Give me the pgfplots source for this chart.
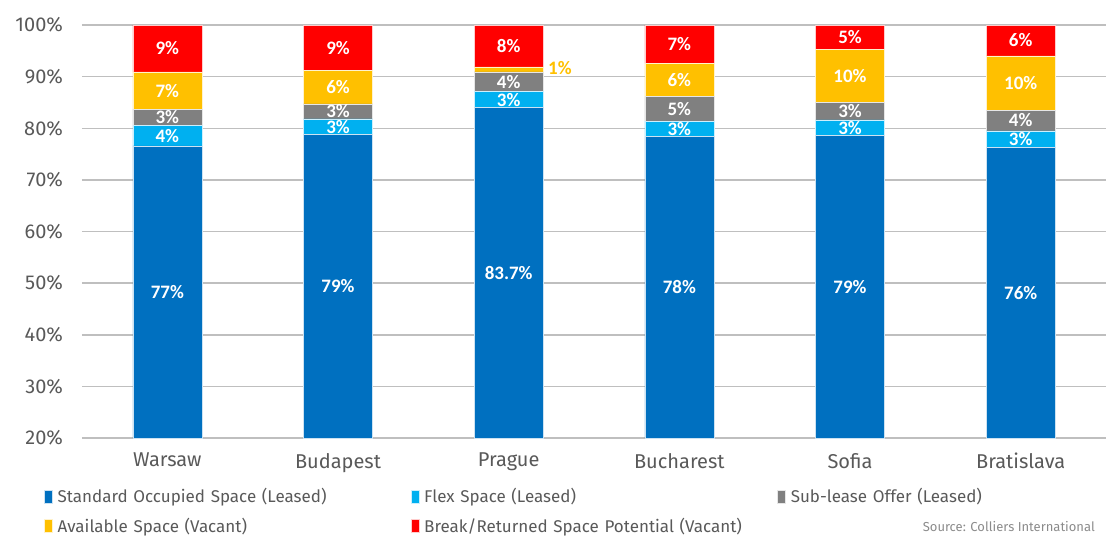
\documentclass[border=0pt]{standalone}
\usepackage{fontspec}
\setmainfont{Fira Sans}
\newfontfamily\carlito{Carlito}
\usepackage{pgfplots}
\usepackage{pgfplotstable}
\pgfplotsset{compat=1.18}
\definecolor{cStd}{HTML}{0070C0}
\definecolor{cFlex}{HTML}{00B0F0}
\definecolor{cSub}{HTML}{808080}
\definecolor{cAvail}{HTML}{FFC000}
\definecolor{cBrk}{HTML}{FF0000}
\definecolor{txt}{HTML}{595959}
\definecolor{grid}{HTML}{BFBFBF}

\pgfplotstableread{
x std flex sub avail brk
0 76.6 3.9 3.2 7.2 9.1
1 78.8 3.0 2.9 6.5 8.8
2 84.0 3.1 3.8 1.0 8.1
3 78.4 3.0 4.7 6.5 7.4
4 78.6 3.0 3.4 10.2 4.8
5 76.3 3.2 4.0 10.5 6.0
}\data

\pgfplotstableread{
x y lab
0 48.3 77
0 78.55 4
0 82.1 3
0 87.3 7
0 95.45 9
1 49.4 79
1 80.2 3
1 83.35 3
1 87.95 6
1 95.6 9
2 52.0 83.7
2 85.55 3
2 89.0 4
2 95.95 8
3 49.2 78
3 79.9 3
3 83.75 5
3 89.35 6
3 96.3 7
4 49.3 79
4 80.0 3
4 83.4 3
4 90.1 10
4 97.6 5
5 48.15 76
5 77.9 3
5 81.5 4
5 88.75 10
5 97.0 6
}\labels

\pgfplotstableread{
x y lab
2.30 91.7 1
}\smalllab

\begin{document}
\begin{tikzpicture}
\pgfplotsset{
  common/.style={
    scale only axis,
    width=512pt, height=206.5pt,
    xmin=-0.5, xmax=5.5,
    ymin=20, ymax=100,
  }
}
\begin{axis}[
  common,
  ybar stacked,
  bar width=34.5pt,
  axis line style={draw=none},
  tick style={draw=none},
  ymajorgrids,
  grid style={grid, line width=0.75pt},
  xtick={0,...,5},
  xticklabels={Warsaw,Budapest,Prague,Bucharest,Sofia,Bratislava},
  xticklabel style={font=\fontsize{10}{12}\selectfont, text=txt, yshift=-4pt},
  ytick={20,30,...,100},
  yticklabels={20\%,30\%,40\%,50\%,60\%,70\%,80\%,90\%,100\%},
  yticklabel style={font=\fontsize{10}{12}\selectfont, text=txt, xshift=-6pt},
  legend columns=3,
  legend cell align=left,
  legend style={
    at={(axis description cs:-0.0371,-0.179)}, anchor=west,
    draw=none, fill=none, inner sep=0pt, outer sep=0pt,
    row sep=4pt,
    font=\fontsize{8.5}{10}\selectfont, text=txt,
    nodes={inner sep=1pt, anchor=west},
    /tikz/every even column/.append style={text width=177pt},
  },
  legend image code/.code={\fill[#1] (0pt,-3pt) rectangle (4pt,3.5pt);},
]
\addplot[fill=cStd, draw=white!80!cStd, line width=0.3pt] table[x=x,y=std] {\data};
\addlegendentry{\hspace{1.5pt}Standard Occupied Space (Leased)}
\addplot[fill=cFlex, draw=white!80!cFlex, line width=0.3pt] table[x=x,y=flex] {\data};
\addlegendentry{\hspace{1.5pt}Flex Space (Leased)}
\addplot[fill=cSub, draw=white!80!cSub, line width=0.3pt] table[x=x,y=sub] {\data};
\addlegendentry{\hspace{1.5pt}Sub-lease Offer (Leased)}
\addplot[fill=cAvail, draw=white!80!cAvail, line width=0.3pt] table[x=x,y=avail] {\data};
\addlegendentry{\hspace{1.5pt}Available Space (Vacant)}
\addplot[fill=cBrk, draw=white!80!cBrk, line width=0.3pt] table[x=x,y=brk] {\data};
\addlegendentry{\hspace{1.5pt}Break/Returned Space Potential (Vacant)}
\end{axis}
\begin{axis}[
  common,
  hide axis,
  clip=false,
]
\addplot[draw=none, mark=none, nodes near coords={\pgfplotspointmeta\%},
  point meta=explicit symbolic,
  every node near coord/.append style={anchor=center, inner sep=0.5pt, text=white, font=\carlito\bfseries\fontsize{9.5}{11}\selectfont}]
  table[x=x,y=y,meta=lab] {\labels};
\addplot[draw=none, mark=none, nodes near coords={\pgfplotspointmeta\%},
  point meta=explicit symbolic,
  every node near coord/.append style={anchor=center, text=cAvail, font=\carlito\bfseries\fontsize{9.5}{11}\selectfont}]
  table[x=x,y=y,meta=lab] {\smalllab};
\node[anchor=east, font=\fontsize{6.5}{8}\selectfont, text=txt!70]
  at (axis description cs:0.996,-0.2155) {Source: Colliers International};
\end{axis}
\pgfresetboundingbox
\path[use as bounding box] (-41pt,-49pt) rectangle (513.5pt,219pt);
\end{tikzpicture}
\end{document}
